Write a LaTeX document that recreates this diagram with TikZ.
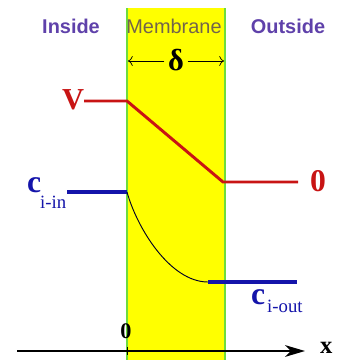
\documentclass[tikz,border=0pt]{standalone}
\usepackage{fontspec}
\setsansfont{Liberation Sans}
\setmainfont{Liberation Serif}
\usetikzlibrary{positioning, arrows.meta}

\definecolor{memyellow}{RGB}{255,255,0}
\definecolor{memgreen}{RGB}{110,220,60}
\definecolor{labpurple}{RGB}{95,65,170}
\definecolor{memolive}{RGB}{115,100,75}
\definecolor{potred}{RGB}{200,20,20}
\definecolor{concblue}{RGB}{20,20,170}

\begin{document}
\begin{tikzpicture}[
                x=0.03cm, y=-0.03cm,
                >=Latex,
                region/.style={font=\sffamily\bfseries\fontsize{17}{19}\selectfont, text=labpurple, inner sep=0pt, anchor=base},
                bigsym/.style={font=\bfseries\fontsize{27}{29}\selectfont, inner sep=0pt, anchor=base west},
                subsym/.style={font=\fontsize{16}{18}\selectfont, text=concblue, inner sep=0pt, anchor=base west},
                potline/.style={line width=2.5pt, potred},
                concline/.style={line width=2.6pt, concblue}
            ]
            \useasboundingbox (0,0) rectangle (338,360);
            % Membrane band
            \fill[memyellow] (127,8) rectangle (225,360);
            \draw[memgreen, line width=1.2pt] (127,8) -- (127,360) (225,8) -- (225,360);

            % Region labels
            \node[region] (inside) at (71,33) {Inside};
            \node[region, font=\sffamily\fontsize{17}{19}\selectfont, text=memolive] (membrane) at (174,33) {Membrane};
            \node[region] (outside) at (288,33) {Outside};

            % Thickness
            \node[font=\bfseries\fontsize{26}{28}\selectfont, inner sep=3pt] (delta) at (176,60) {δ};
            \coordinate (dl) at (128,61);
            \coordinate (dr) at (224,61);
            \draw[-{To[length=4pt]}, semithick] (delta.east |- dr) -- (dr);
            \draw[-{To[length=4pt]}, semithick] (delta.west |- dl) -- (dl);

            % Potential
            \node[bigsym, text=potred, font=\bfseries\fontsize{26}{28}\selectfont] (V) at (62,109) {V};
            \node[bigsym, text=potred] (zero) at (310,191) {0};
            \coordinate (pa) at (84,101);
            \coordinate (pb) at (127,101);
            \coordinate (pc) at (223,182);
            \coordinate (pd) at (298,182);
            \draw[potline] (pa) -- (pb) -- (pc) -- (pd);

            % Concentration
            \node[bigsym, text=concblue] (cin) at (27,192) {c};
            \node[subsym] (cinsub) at (40,208) {i-in};
            \node[bigsym, text=concblue] (cout) at (251,304) {c};
            \node[subsym] (coutsub) at (267,312) {i-out};
            \coordinate (ca) at (67,192);
            \coordinate (cb) at (127,192);
            \coordinate (cc) at (208,282);
            \coordinate (cd) at (297,282);
            \draw[concline] (ca) -- (cb);
            \draw[concline] (cc) -- (cd);
            \draw[line width=0.8pt, black!85!blue] (cb) .. controls (137,228) and (170,282) .. (cc);

            % Axis
            \node[font=\bfseries\fontsize{19}{21}\selectfont, inner sep=0pt, anchor=base] (origin) at (126,338) {0};
            \node[bigsym, font=\bfseries\fontsize{21}{23}\selectfont] (xlab) at (320,353) {x};
            \coordinate (xs) at (17,351);
            \coordinate (xe) at (305,351);
            \draw[line width=1.6pt, -{Stealth[length=17pt, width=10pt, inset=5pt]}] (xs) -- (xe);
            \draw[line width=0.8pt] (127,347) -- (127,355);
\end{tikzpicture}
\end{document}
